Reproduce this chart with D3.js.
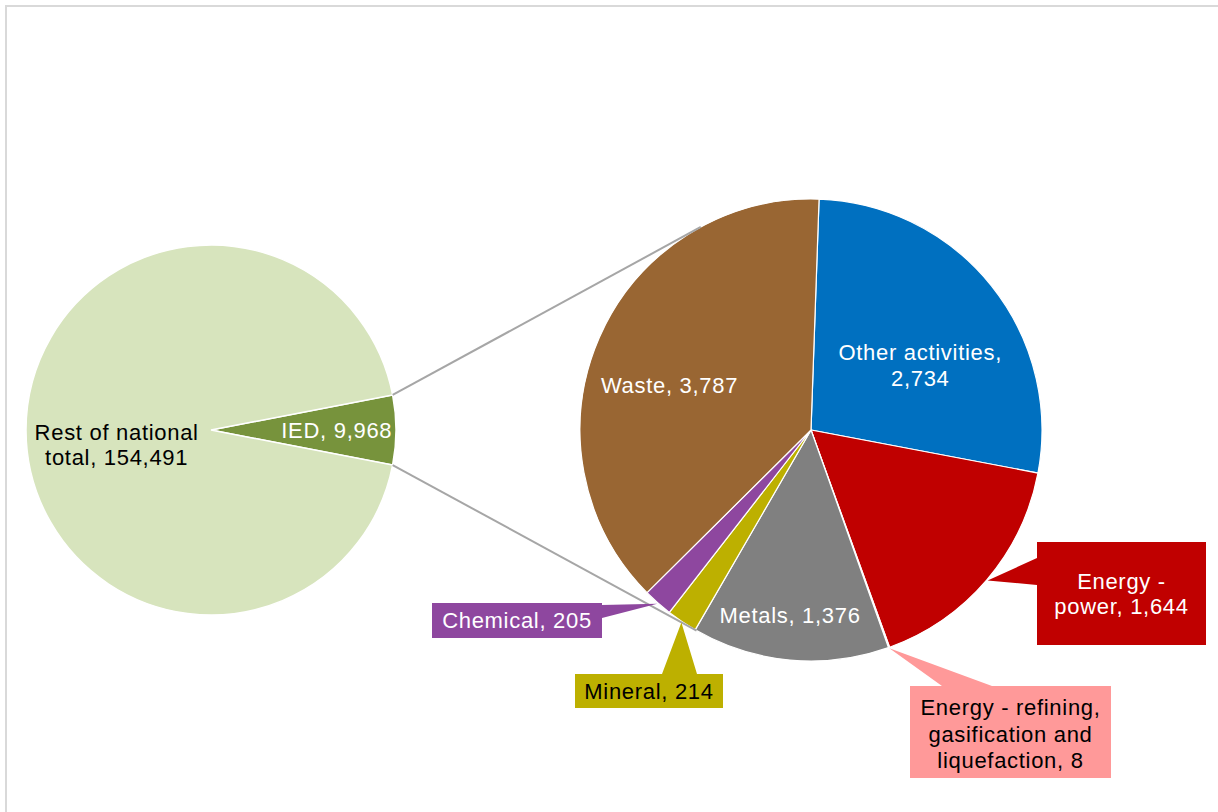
<!DOCTYPE html>
<html>
<head>
<meta charset="utf-8">
<script src="https://cdn.jsdelivr.net/npm/d3@7/dist/d3.min.js"></script>
<style>
  body { margin: 0; background: #fff; }
  svg { display: block; }
  text { font-family: "Liberation Sans", Arial, sans-serif; font-size: 22px; letter-spacing: 0.7px; }
</style>
</head>
<body>
<svg width="1218" height="812"></svg>
<script>
// data
const mainNames = ["IED", "Rest of national total"];
const mainValues = [9968, 154491];
const mainColors = ["#77933c", "#d7e4bd"];

const subNames = ["Other activities", "Energy - power", "Energy - refining, gasification and liquefaction", "Metals", "Mineral", "Chemical", "Waste"];
const subValues = [2734, 1644, 8, 1376, 214, 205, 3787];
const subColors = ["#0070c0", "#c00000", "#ff9999", "#808080", "#bdb000", "#8e479f", "#996633"];

const svg = d3.select("svg");
const width = +svg.attr("width");
const height = +svg.attr("height");

// frame
svg.append("rect")
  .attr("x", 6).attr("y", 6)
  .attr("width", width + 20).attr("height", height + 20)
  .attr("fill", "none")
  .attr("stroke", "#d9d9d9")
  .attr("stroke-width", 2);

const fmt = d3.format(",");

// left pie
const L = { cx: 211, cy: 430, r: 185 };
const iedSpan = 2 * Math.PI * mainValues[0] / d3.sum(mainValues);
const mainPie = d3.pie().sort(null).startAngle(Math.PI / 2 - iedSpan / 2).endAngle(Math.PI / 2 - iedSpan / 2 + 2 * Math.PI);
const mainArcs = mainPie(mainValues);
const mainArc = d3.arc().innerRadius(0).outerRadius(L.r);

const gL = svg.append("g").attr("transform", `translate(${L.cx},${L.cy})`);
gL.selectAll("path")
  .data(mainArcs)
  .join("path")
  .attr("d", mainArc)
  .attr("fill", (d, i) => mainColors[i])
  .attr("stroke", "#fff")
  .attr("stroke-width", 1.5);

// right pie
const R = { cx: 811, cy: 430, r: 231 };
const start = 2 * Math.PI / 180;
const subPie = d3.pie().sort(null).startAngle(start).endAngle(start + 2 * Math.PI);
const subArcs = subPie(subValues);
const subArc = d3.arc().innerRadius(0).outerRadius(R.r);

const gR = svg.append("g").attr("transform", `translate(${R.cx},${R.cy})`);
gR.selectAll("path")
  .data(subArcs)
  .join("path")
  .attr("d", subArc)
  .attr("fill", (d, i) => subColors[i])
  .attr("stroke", "#fff")
  .attr("stroke-width", 1.2);

// connector lines
const pt = (c, r, a) => [c.cx + r * Math.sin(a), c.cy - r * Math.cos(a)];
const ied = mainArcs[0];
const toTop = -28.5 * Math.PI / 180, toBottom = 209.7 * Math.PI / 180;
[[pt(L, L.r, ied.startAngle), pt(R, R.r, toTop)],
 [pt(L, L.r, ied.endAngle), pt(R, R.r, toBottom)]].forEach(seg => {
  svg.append("line")
    .attr("x1", seg[0][0]).attr("y1", seg[0][1])
    .attr("x2", seg[1][0]).attr("y2", seg[1][1])
    .attr("stroke", "#a6a6a6")
    .attr("stroke-width", 2);
});

function multiline(g, lines, x, y, fill, lh) {
  const t = g.append("text")
    .attr("text-anchor", "middle")
    .attr("fill", fill);
  lines.forEach((s, i) => {
    t.append("tspan").attr("x", x).attr("y", y + i * lh).text(s);
  });
}

// inner labels, left pie
const mid = d => (d.startAngle + d.endAngle) / 2;
{
  const p = pt(L, L.r * 0.68, mid(mainArcs[0]));
  multiline(svg, [`IED, ${fmt(mainValues[0])}`], p[0], p[1] + 8, "#fff", 25);
  const q = pt(L, L.r * 0.51, mid(mainArcs[1]));
  multiline(svg, ["Rest of national", `total, ${fmt(mainValues[1])}`], q[0], q[1] + 10, "#000", 25);
}

// inner labels, right pie: [index, radius fraction, dx, dy, lines]
const inner = [
  [0, 0.55, 10, 9, ["Other activities,", fmt(subValues[0])]],
  [6, 0.55, -25, 14, [`Waste, ${fmt(subValues[6])}`]],
  [3, 0.8, -4, 9, [`Metals, ${fmt(subValues[3])}`]]
];
inner.forEach(([i, k, dx, dy, lines]) => {
  const p = pt(R, R.r * k, mid(subArcs[i]));
  multiline(svg, lines, p[0] + dx, p[1] + dy, "#fff", 26);
});

// callouts: box, wedge side, wedge base, text
const callouts = [
  { i: 1, box: [1037, 542, 1206, 645], side: "left", base: [558, 585], lines: ["Energy -", `power, ${fmt(subValues[1])}`], color: "#fff", ty: 589, lh: 25 },
  { i: 2, box: [910, 686, 1111, 778], side: "top", base: [942, 992], lines: ["Energy - refining,", "gasification and", `liquefaction, ${fmt(subValues[2])}`], color: "#000", ty: 715, lh: 26.5 },
  { i: 5, box: [432, 603, 602, 638], side: "right", base: [605, 618], lines: [`Chemical, ${fmt(subValues[5])}`], color: "#fff", ty: 628, lh: 25 },
  { i: 4, box: [575, 674, 723, 708], side: "top", base: [662, 697], lines: [`Mineral, ${fmt(subValues[4])}`], color: "#000", ty: 699, lh: 25 }
];

callouts.forEach(c => {
  const tip = pt(R, R.r + 1, mid(subArcs[c.i]));
  const [x0, y0, x1, y1] = c.box;
  let poly;
  if (c.side === "left") {
    poly = [[x0, y0], [x1, y0], [x1, y1], [x0, y1], [x0, c.base[1]], tip, [x0, c.base[0]]];
  } else if (c.side === "right") {
    poly = [[x0, y0], [x1, y0], [x1, c.base[0]], tip, [x1, c.base[1]], [x1, y1], [x0, y1]];
  } else {
    poly = [[x0, y0], [c.base[0], y0], tip, [c.base[1], y0], [x1, y0], [x1, y1], [x0, y1]];
  }
  svg.append("path")
    .attr("d", d3.line()(poly) + "Z")
    .attr("fill", subColors[c.i]);
  multiline(svg, c.lines, (x0 + x1) / 2, c.ty, c.color, c.lh);
});
</script>
</body>
</html>
